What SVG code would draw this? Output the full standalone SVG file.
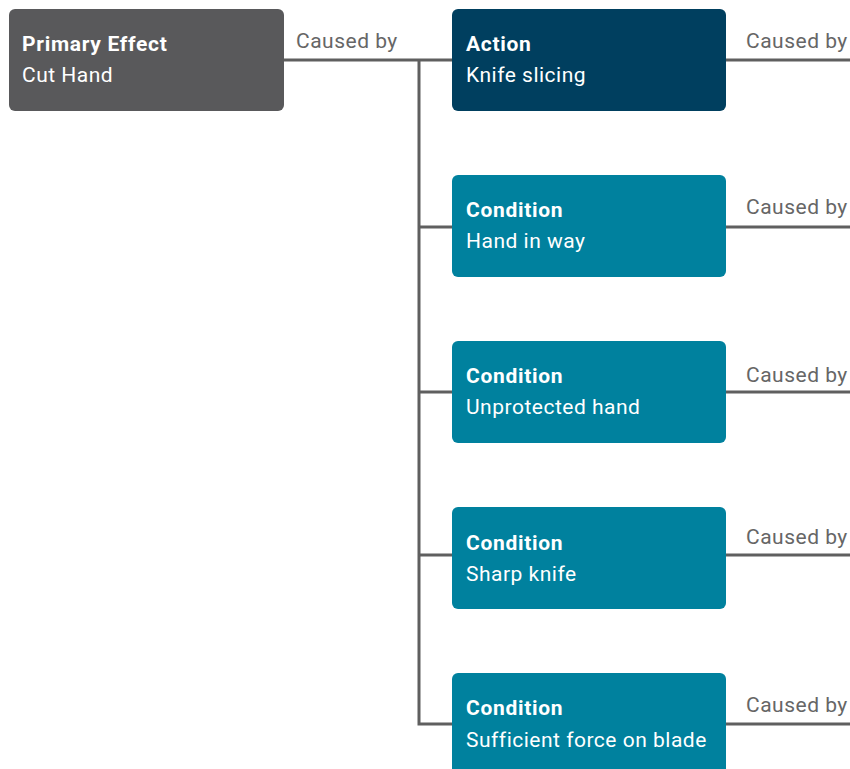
<svg xmlns="http://www.w3.org/2000/svg" width="850" height="769" viewBox="0 0 850 769">
<style>
.box{stroke:none}
.t{font-family:Roboto,"Liberation Sans",sans-serif;font-size:21px;letter-spacing:0.5px;fill:#ffffff}
.b{font-weight:bold;letter-spacing:0.7px}
.lbl{font-family:Roboto,"Liberation Sans",sans-serif;font-size:21px;letter-spacing:0.5px;fill:#666666}
.ln{stroke:#5f5f5f;stroke-width:3;fill:none}
</style>
<rect width="850" height="769" fill="#ffffff"/>
<g id="connectors">
<path class="ln" d="M284 60 H452"/>
<path class="ln" d="M419 60 V724 H452"/>
<path class="ln" d="M419 227 H452"/>
<path class="ln" d="M419 392 H452"/>
<path class="ln" d="M419 555 H452"/>
<path class="ln" d="M726 60 H850"/>
<path class="ln" d="M726 227 H850"/>
<path class="ln" d="M726 392 H850"/>
<path class="ln" d="M726 555 H850"/>
<path class="ln" d="M726 724 H850"/>
<text class="lbl" x="296" y="48">Caused by</text>
<text class="lbl" x="746" y="48">Caused by</text>
<text class="lbl" x="746" y="214">Caused by</text>
<text class="lbl" x="746" y="382">Caused by</text>
<text class="lbl" x="746" y="544">Caused by</text>
<text class="lbl" x="746" y="712">Caused by</text>
</g>
<g id="primary">
<rect class="box" x="9" y="9" width="275" height="102" rx="6" fill="#59595b"/>
<text class="t b" x="22" y="51">Primary Effect</text>
<text class="t" x="22" y="82">Cut Hand</text>
</g>
<g id="action">
<rect class="box" x="452" y="9" width="274" height="102" rx="6" fill="#003f5f"/>
<text class="t b" x="466" y="51">Action</text>
<text class="t" x="466" y="82">Knife slicing</text>
</g>
<g id="cond1">
<rect class="box" x="452" y="175" width="274" height="102" rx="6" fill="#00819e"/>
<text class="t b" x="466" y="217">Condition</text>
<text class="t" x="466" y="248">Hand in way</text>
</g>
<g id="cond2">
<rect class="box" x="452" y="341" width="274" height="102" rx="6" fill="#00819e"/>
<text class="t b" x="466" y="383">Condition</text>
<text class="t" x="466" y="414">Unprotected hand</text>
</g>
<g id="cond3">
<rect class="box" x="452" y="507" width="274" height="102" rx="6" fill="#00819e"/>
<text class="t b" x="466" y="550">Condition</text>
<text class="t" x="466" y="581">Sharp knife</text>
</g>
<g id="cond4">
<rect class="box" x="452" y="673" width="274" height="110" rx="6" fill="#00819e"/>
<text class="t b" x="466" y="715">Condition</text>
<text class="t" x="466" y="747">Sufficient force on blade</text>
</g>
</svg>
